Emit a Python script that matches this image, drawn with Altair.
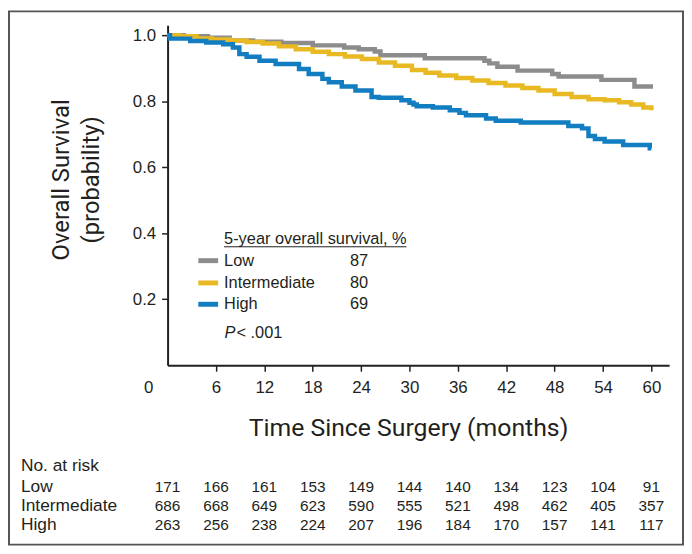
import altair as alt
import pandas as pd

# ---------------- data ----------------
groups = ["Low", "Intermediate", "High"]
colors = ["#8c8c8c", "#e8b923", "#127dc0"]
five_year = [87, 80, 69]

low_t = [0, 2, 5, 7.7, 10.6, 14.1, 18.0, 21.9, 23.7, 25.7, 26.4, 31.9, 39.3, 39.9, 40.9, 43.4, 47.7, 48.5, 53.8, 57.9, 60.2]
low_s = [1.0, 0.997, 0.992, 0.984, 0.980, 0.976, 0.969, 0.9625, 0.9575, 0.9505, 0.939, 0.930, 0.9225, 0.9145, 0.9045, 0.8925, 0.8825, 0.8745, 0.8645, 0.8445, 0.8445]

int_t = [0, 1.5, 3.6, 5.5, 7.7, 9.8, 11.8, 13.8, 15.9, 18.0, 20.0, 22.0, 24.1, 26.2, 28.2, 30.3, 32.0, 33.7, 35.8, 37.8, 39.8, 41.9, 44.0, 46.0, 48.0, 50.1, 52.2, 54.2, 56.0, 57.5, 59.0, 60.0]
int_s = [1.0, 0.997, 0.990, 0.987, 0.984, 0.979, 0.9745, 0.966, 0.9575, 0.950, 0.9425, 0.935, 0.9275, 0.917, 0.9075, 0.8945, 0.886, 0.8775, 0.870, 0.8625, 0.855, 0.8475, 0.840, 0.8325, 0.822, 0.8125, 0.8055, 0.8025, 0.797, 0.790, 0.781, 0.7725]

high_t = [0, 0.3, 2.8, 4.8, 6.9, 8.1, 8.9, 9.8, 11.4, 13.4, 16.3, 17.5, 19.2, 20.0, 21.6, 23.3, 25.3, 26.2, 29.0, 30.0, 30.5, 30.9, 32.9, 35.0, 36.2, 37.0, 39.5, 40.7, 43.8, 49.7, 51.4, 52.2, 53.0, 54.2, 56.5, 59.8, 60.0]
high_s = [1.0, 0.9895, 0.9825, 0.9775, 0.9725, 0.9625, 0.9425, 0.9345, 0.9225, 0.9125, 0.8975, 0.8825, 0.8675, 0.8575, 0.8445, 0.8325, 0.8125, 0.8105, 0.8025, 0.795, 0.790, 0.7845, 0.7805, 0.7725, 0.7645, 0.7575, 0.7475, 0.7405, 0.7355, 0.7245, 0.7175, 0.6945, 0.6855, 0.6775, 0.6675, 0.6575, 0.6575]

risk_times = [0, 6, 12, 18, 24, 30, 36, 42, 48, 54, 60]
risk_low = [171, 166, 161, 153, 149, 144, 140, 134, 123, 104, 91]
risk_int = [686, 668, 649, 623, 590, 555, 521, 498, 462, 405, 357]
risk_high = [263, 256, 238, 224, 207, 196, 184, 170, 157, 141, 117]

x_ticks = [6, 12, 18, 24, 30, 36, 42, 48, 54, 60]
y_ticks = [0.2, 0.4, 0.6, 0.8, 1.0]

x_title = "Time Since Surgery (months)"
y_title = ["Overall Survival", "(probability)"]
legend_title = "5-year overall survival, %"
risk_title = "No. at risk"

# ---------------- styling ----------------
BODY = "Liberation Sans, Arial, Helvetica, sans-serif"
TITLE = "Roboto, Liberation Sans, sans-serif"
INK = "#231f20"

X_ENC = alt.X(
    "t:Q",
    scale=alt.Scale(domain=[0, 62.2], nice=False, zero=False),
    axis=alt.Axis(values=x_ticks, title=None, labelFontSize=17, labelPadding=9,
                  labelFont=BODY, labelColor=INK, tickSize=6, tickColor=INK,
                  tickWidth=1.5, domainColor=INK, domainWidth=2, grid=False),
)
Y_ENC = alt.Y(
    "s:Q",
    scale=alt.Scale(domain=[0, 1.03], nice=False, zero=True),
    axis=alt.Axis(values=y_ticks, format=".1f", title=None, labelFontSize=17,
                  labelPadding=6, labelFont=BODY, labelColor=INK, tickSize=6,
                  tickColor=INK, tickWidth=1.5, domainColor=INK, domainWidth=2,
                  grid=False),
)

layers = []

# Curves (one layer per group for draw order)
curve_data = [(low_t, low_s), (int_t, int_s), (high_t, high_s)]
for g, c, (tt, ss) in zip(groups, colors, curve_data):
    df = pd.DataFrame({"t": tt, "s": ss, "g": g})
    layers.append(
        alt.Chart(df).mark_line(interpolate="step-after", strokeWidth=4.5, color=c,
                                strokeCap="butt")
        .encode(x=X_ENC, y=Y_ENC)
    )


def text_layer(value, x, y, size, align="left", baseline="middle", font=BODY,
               style="normal", angle=0):
    df = pd.DataFrame({"txt": [str(value)]})
    return alt.Chart(df).mark_text(
        align=align, baseline=baseline, font=font, fontSize=size,
        fontStyle=style, color=INK, angle=angle
    ).encode(text="txt:N", x=alt.value(x), y=alt.value(y))


# "0" tick label at origin (offset left)
layers.append(text_layer(risk_times[0], -19, 366, 17, align="center"))

# axis titles
layers.append(text_layer(x_title, 243, 406, 25, align="center", font=TITLE))
layers.append(text_layer(y_title[0], -106, 156, 24, align="center", font=TITLE, angle=270))
layers.append(text_layer(y_title[1], -76, 156, 24, align="center", font=TITLE, angle=270))

# legend block
layers.append(text_layer(legend_title, 57, 216, 16.5))
rule_df = pd.DataFrame({"k": [0]})
layers.append(
    alt.Chart(rule_df).mark_rule(color=INK, strokeWidth=1)
    .encode(x=alt.value(57), x2=alt.value(241), y=alt.value(223.5))
)
row_y = [237.5, 260, 281.5]
for g, c, v, yy in zip(groups, colors, five_year, row_y):
    layers.append(
        alt.Chart(rule_df).mark_rule(color=c, strokeWidth=5)
        .encode(x=alt.value(31), x2=alt.value(51), y=alt.value(yy))
    )
    layers.append(text_layer(g, 57, yy, 16.5))
    layers.append(text_layer(v, 184, yy, 16.5))
layers.append(text_layer("P", 57.5, 311, 16.5, style="italic"))
layers.append(text_layer("< .001", 69.5, 311, 16.5))

# risk table
layers.append(text_layer(risk_title, -148, 450, 17.5, baseline="alphabetic"))
risk_rows = [risk_low, risk_int, risk_high]
risk_y = [470.5, 490, 509]
for g, nums, yy in zip(groups, risk_rows, risk_y):
    layers.append(text_layer(g, -148, yy, 17.5, baseline="alphabetic"))
    df = pd.DataFrame({"t": risk_times, "n": nums})
    layers.append(
        alt.Chart(df).mark_text(align="center", baseline="alphabetic", font=BODY,
                                fontSize=15.5, color=INK)
        .encode(x=X_ENC, y=alt.value(yy), text=alt.Text("n:Q", format="d"))
    )

# outer frame
layers.append(
    alt.Chart(rule_df).mark_rect(fillOpacity=0, stroke="#555555", strokeWidth=2)
    .encode(x=alt.value(-160), x2=alt.value(520), y=alt.value(-14), y2=alt.value(524))
)

chart = alt.layer(*layers).properties(
    width=506,
    height=343,
    autosize=alt.AutoSizeParams(type="none"),
    padding={"left": 161, "top": 15, "right": 15, "bottom": 182},
    background="white",
).configure_view(stroke=None)

chart.save("out.html", embed_options={"renderer": "svg", "actions": False})
